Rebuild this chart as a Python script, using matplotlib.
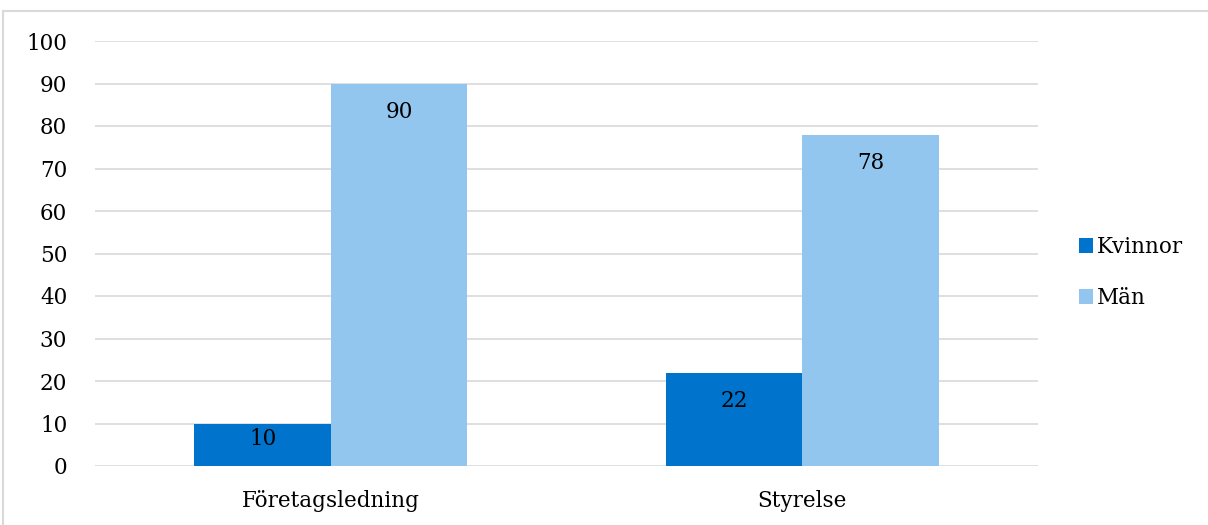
import matplotlib
matplotlib.use("Agg")
import matplotlib.pyplot as plt
import numpy as np
from matplotlib.patches import Rectangle

categories = ["Företagsledning", "Styrelse"]
series_names = ["Kvinnor", "Män"]
kvinnor = [10, 22]
man = [90, 78]
yticks = [0, 10, 20, 30, 40, 50, 60, 70, 80, 90, 100]

colors = ["#0074CC", "#93C6EE"]
plt.rcParams['font.family'] = ['DejaVu Serif']
FS = 15.5

fig = plt.figure(figsize=(12.08, 5.25), dpi=100)
ax = fig.add_axes([95/1208, 59/525, (1038-95)/1208, (466-41)/525])

# chart border
fig.patches.append(Rectangle((3/1208, -0.1), 1.2, (514/525) + 0.1, transform=fig.transFigure,
                             fill=False, edgecolor="#D9D9D9", linewidth=1.5))

x = np.arange(len(categories))
w = 0.289
for i, (vals, name) in enumerate(zip([kvinnor, man], series_names)):
    b = ax.bar(x + (i - 0.5) * w, vals, width=w, color=colors[i], label=name, zorder=3)
    for rect, v in zip(b, vals):
        off = min(6.8, 0.365 * v)
        ax.text(rect.get_x() + rect.get_width() / 2, v - off, f"{v}",
                ha="center", va="center", fontsize=FS, color="black", zorder=4)

ax.set_xlim(-0.5, 1.5)
ax.set_ylim(0, 100)
ax.set_yticks(yticks)
ax.set_yticklabels([str(t) for t in yticks], fontsize=FS)
ax.set_xticks(x)
ax.set_xticklabels(categories, fontsize=FS)
ax.tick_params(axis="x", length=0, pad=17)
ax.tick_params(axis="y", length=0, pad=20)
ax.grid(axis="y", color="#D9D9D9", linewidth=1.2, zorder=0)
for s in ax.spines.values():
    s.set_visible(False)

ax.legend(loc="center left", bbox_to_anchor=(1.023, 0.455), frameon=False, fontsize=FS,
          handlelength=0.65, handleheight=0.65, handletextpad=0.2, labelspacing=1.35)

fig.savefig("out.png", dpi=100)
